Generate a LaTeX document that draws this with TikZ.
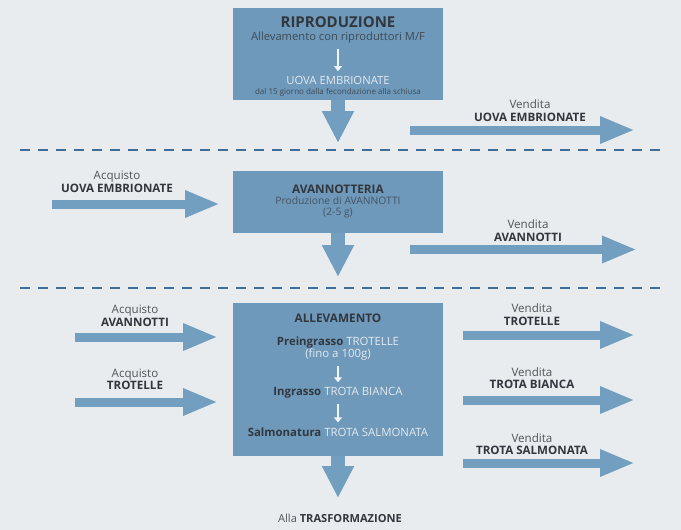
\documentclass[tikz,border=0pt]{standalone}
\usepackage{fontspec}
\setmainfont{Open Sans}
\usetikzlibrary{arrows.meta, positioning}
\usepackage{xcolor}
\definecolor{pagegray}{RGB}{233, 236, 238}
\definecolor{boxblue}{RGB}{110, 153, 186}
\definecolor{arrowblue}{RGB}{114, 158, 192}
\definecolor{dashblue}{RGB}{62, 110, 150}
\definecolor{darktext}{RGB}{50, 55, 62}
\definecolor{lighttext}{RGB}{228, 233, 238}
\definecolor{labeltext}{RGB}{80, 84, 88}
\newcommand{\dkbf}[1]{\textcolor{darktext}{\bfseries #1}}

\begin{document}
\begin{tikzpicture}[
  x=1pt, y=-1pt,
  bbox/.style={rectangle, fill=boxblue, minimum width=210pt, minimum height=#1, inner sep=0pt},
  ttl/.style={font=\bfseries\fontsize{11.8}{13}\selectfont, text=darktext, inner sep=1pt},
  txt/.style={font=\fontsize{11.4}{12}\selectfont, text=lighttext, inner sep=1pt, align=center},
  lbl/.style={font=\fontsize{11.6}{12.5}\selectfont, text=labeltext, align=center, inner sep=1pt},
  bigarr/.style={line width=9pt, arrowblue, -{Triangle[length=35pt, width=25pt]}},
  downarr/.style={line width=14pt, arrowblue, -{Triangle[length=32pt, width=30pt]}},
  warr/.style={white!90!boxblue, line width=1.3pt, -{Triangle[length=5pt, width=8pt]}},
  sepline/.style={dashblue, line width=1.8pt, dash pattern=on 10pt off 8pt}
]
% page
\fill[pagegray] (0,0) rectangle (681,530);
\draw[sepline] (20,150) -- (665,150);
\draw[sepline] (20,288) -- (665,288);

% boxes
\node[bbox=92pt]  (rip)   at (338,54)    {};
\node[bbox=62pt]  (avan)  at (338,202)   {};
\node[bbox=153pt] (allev) at (338,379.5) {};

% riproduzione
\node[ttl, font=\bfseries\fontsize{15}{16}\selectfont] (riptitle) at (338,22) {RIPRODUZIONE};
\node[txt, text=darktext!80!boxblue, font=\fontsize{11.2}{12}\selectfont] (ripsub) at (338,38) {Allevamento con riproduttori M/F};
\node[txt, font=\fontsize{11.3}{12}\selectfont] (ripuova) at (338,80.5) {UOVA EMBRIONATE};
\node[txt, text=darktext!80!boxblue, font=\fontsize{8}{9}\selectfont] (ripnote) at (338,92) {dal 15 giorno dalla fecondazione alla schiusa};
\draw[warr, shorten <=4pt, shorten >=4pt] (ripsub) -- (ripuova);

% avannotteria
\node[ttl] (avtitle) at (338,189) {AVANNOTTERIA};
\node[txt, text=darktext!70!boxblue, font=\fontsize{10.3}{11.5}\selectfont] (avsub) at (338,207.5) {Produzione di AVANNOTTI\\(2-5 g)};

% allevamento
\node[ttl] (altitle) at (338,318) {ALLEVAMENTO};
\node[txt] (alpre) at (338,349) {\dkbf{Preingrasso} TROTELLE\\(fino a 100g)};
\node[txt] (alingr) at (338,393) {\dkbf{Ingrasso} TROTA BIANCA};
\node[txt] (alsalm) at (338,432) {\dkbf{Salmonatura} TROTA SALMONATA};
\draw[warr, shorten <=4pt, shorten >=4pt] (alpre) -- (alingr);
\draw[warr, shorten <=4pt, shorten >=4pt] (alingr) -- (alsalm);

% down arrows
\coordinate (ripdown) at (338,143);
\coordinate (avdown)  at (338,277);
\coordinate (aldown)  at (338,498);
\draw[downarr] (rip.south)   -- (ripdown);
\draw[downarr] (avan.south)  -- (avdown);
\draw[downarr] (allev.south) -- (aldown);
\node[lbl, font=\fontsize{11.1}{12}\selectfont] (trasf) at (340,518) {Alla \dkbf{TRASFORMAZIONE}};

% sale / purchase arrows
\coordinate (vu1) at (410,130);   \coordinate (vu2) at (635,130);
\coordinate (au1) at (52,204);    \coordinate (au2) at (220,204);
\coordinate (va1) at (410,249.5); \coordinate (va2) at (637,249.5);
\coordinate (aa1) at (75,337);    \coordinate (aa2) at (218,337);
\coordinate (at1) at (75,402);    \coordinate (at2) at (218,402);
\coordinate (vt1) at (463,335);   \coordinate (vt2) at (635,335);
\coordinate (vb1) at (463,400);   \coordinate (vb2) at (635,400);
\coordinate (vs1) at (463,463);   \coordinate (vs2) at (635,463);

\draw[bigarr] (vu1) -- (vu2);
\draw[bigarr] (au1) -- (au2);
\draw[bigarr] (va1) -- (va2);
\draw[bigarr] (aa1) -- (aa2);
\draw[bigarr] (at1) -- (at2);
\draw[bigarr] (vt1) -- (vt2);
\draw[bigarr] (vb1) -- (vb2);
\draw[bigarr] (vs1) -- (vs2);

\node[lbl] (vulbl) at (530,110.5) {Vendita\\\dkbf{UOVA EMBRIONATE}};
\node[lbl] (aulbl) at (117,182)   {Acquisto\\\dkbf{UOVA EMBRIONATE}};
\node[lbl] (valbl) at (528,230.5) {Vendita\\\dkbf{AVANNOTTI}};
\node[lbl] (aalbl) at (135,316)   {Acquisto\\\dkbf{AVANNOTTI}};
\node[lbl] (atlbl) at (135,379.5) {Acquisto\\\dkbf{TROTELLE}};
\node[lbl] (vtlbl) at (532,314.5) {Vendita\\\dkbf{TROTELLE}};
\node[lbl] (vblbl) at (532,378)   {Vendita\\\dkbf{TROTA BIANCA}};
\node[lbl] (vslbl) at (532,444)   {Vendita\\\dkbf{TROTA SALMONATA}};
\end{tikzpicture}
\end{document}
